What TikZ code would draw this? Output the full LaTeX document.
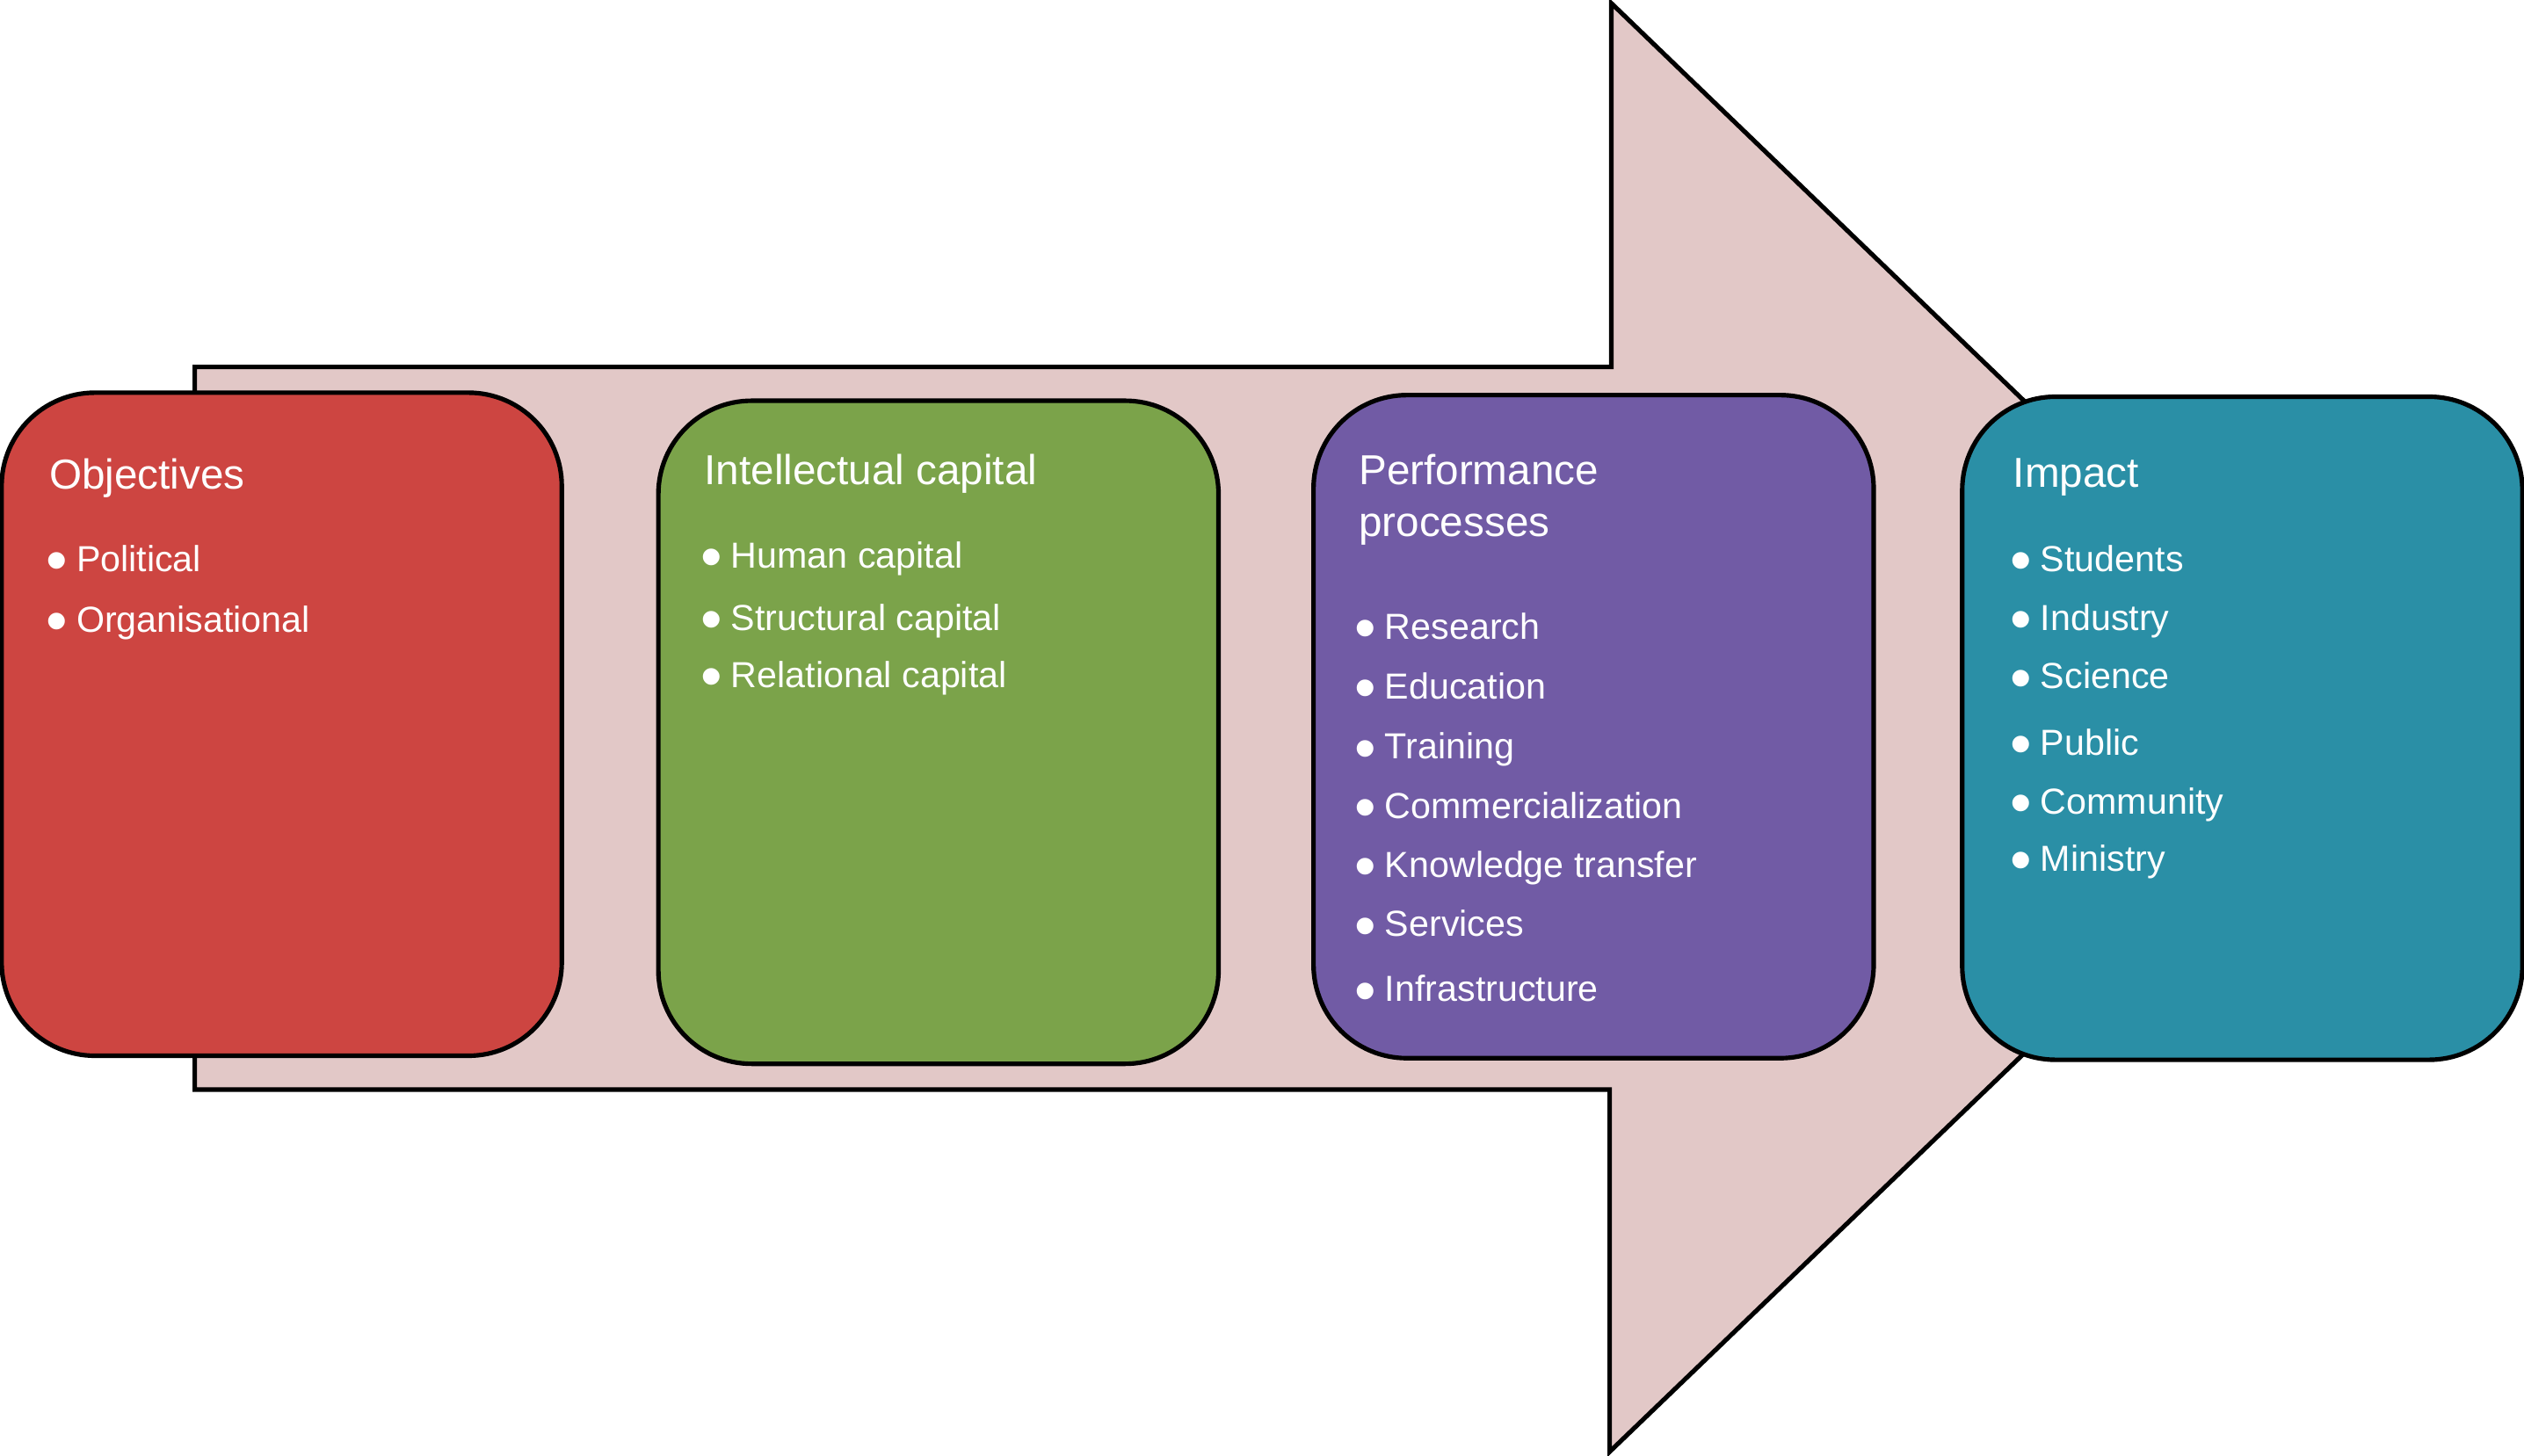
\documentclass[tikz,border=0pt]{standalone}
\usepackage{fontspec}
\setmainfont{Liberation Sans}
\usepackage{xcolor}
\usepackage{graphicx}
\usepackage{tikz}
\definecolor{arrowpink}{RGB}{226,200,199}
\definecolor{objred}{RGB}{205,69,65}
\definecolor{icgreen}{RGB}{123,163,74}
\definecolor{pppurple}{RGB}{113,91,165}
\definecolor{impteal}{RGB}{42,143,166}
\newcommand{\dotmark}{\raisebox{-0.27em}{\scalebox{1.7}{\textbullet}}\hspace{0.25em}}

\begin{document}
\begin{tikzpicture}[x=0.1mm, y=-0.1mm,
    stage/.style={draw=black, line width=0.8pt, rounded corners=5.8mm,
        minimum width=34.8mm, minimum height=41.2mm, inner sep=0pt},
    heading/.style={anchor=base west, inner sep=0pt, text=white, align=left,
        font=\fontsize{7.4}{9.1}\selectfont},
    bullet/.style={anchor=base west, inner sep=0pt, text=white,
        font=\fontsize{6.4}{7.7}\selectfont}]
    \useasboundingbox (0,0) rectangle (1568,904.6);

    % Big arrow
    \draw[fill=arrowpink, line width=0.8pt] (121,228) -- (1001,228) -- (1001,2)
        -- (1468,452) -- (1000,902) -- (1000,677) -- (121,677) -- cycle;

    % Stages
    \node[stage, fill=objred] (obj) at (175,450) {};
    \node[stage, fill=icgreen] (ic) at (583,455) {};
    \node[stage, fill=pppurple] (pp) at (990,451.5) {};
    \node[stage, fill=impteal] (imp) at (1393,452.5) {};

    % Headings (base = last line)
    \node[heading] (objtitle) at (30,303.6) {Objectives};
    \node[heading] (ictitle) at (437,301.2) {Intellectual capital};
    \node[heading] (pptitle) at (843.5,333.2) {Performance\\processes};
    \node[heading] (imptitle) at (1250,303) {Impact};

    % Items
    \foreach \y/\item [count=\i] in {355.3/Political, 392.7/Organisational} {
        \node[bullet] (obj\i) at (27.8,\y) {\dotmark\item};
    }
    \foreach \y/\item [count=\i] in {353.1/Human capital, 391.6/Structural capital,
        427.1/Relational capital} {
        \node[bullet] (ic\i) at (434.5,\y) {\dotmark\item};
    }
    \foreach \y/\item [count=\i] in {397.1/Research, 434.1/Education, 471.7/Training,
        508.7/Commercialization, 545.1/Knowledge transfer, 582.0/Services,
        622.4/Infrastructure} {
        \node[bullet] (pp\i) at (840.7,\y) {\dotmark\item};
    }
    \foreach \y/\item [count=\i] in {355.3/Students, 391.6/Industry, 428.0/Science,
        469.2/Public, 505.6/Community, 541.4/Ministry} {
        \node[bullet] (imp\i) at (1248,\y) {\dotmark\item};
    }
\end{tikzpicture}
\end{document}
